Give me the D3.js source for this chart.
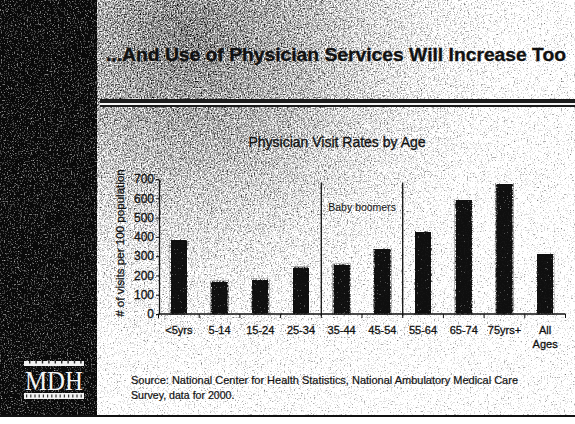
<!DOCTYPE html>
<html>
<head>
<meta charset="utf-8">
<script src="https://cdn.jsdelivr.net/npm/d3@7"></script>
<style>
  body { margin: 0; background: #fff; }
  svg { display: block; font-family: "Liberation Sans", Arial, sans-serif; }
  .ink { fill: #111; stroke: #111; stroke-width: 0.3px; }
</style>
</head>
<body>
<svg id="slide" width="575" height="424"></svg>
<script>
// data
const ageGroups = ["<5yrs", "5-14", "15-24", "25-34", "35-44", "45-54", "55-64", "65-74", "75yrs+", "All Ages"];
const visitRates = [386, 170, 180, 243, 258, 340, 428, 594, 677, 314];
const yTicks = [0, 100, 200, 300, 400, 500, 600, 700];
const boomerBounds = ["35-44", "55-64"];

const svg = d3.select("#slide");
const defs = svg.append("defs");

// scanned / halftone look: add noise to the grey level, then posterize
function ditherFilter(id, units, seed, amp, levels) {
    const f = defs.append("filter")
        .attr("id", id)
        .attr("color-interpolation-filters", "sRGB");
    if (units) {
        f.attr("filterUnits", "userSpaceOnUse")
            .attr("x", 0).attr("y", 0).attr("width", 575).attr("height", 424);
    } else {
        f.attr("x", -0.05).attr("y", -0.05).attr("width", 1.1).attr("height", 1.1);
    }
    f.append("feTurbulence")
        .attr("type", "fractalNoise")
        .attr("baseFrequency", 0.7)
        .attr("numOctaves", 2)
        .attr("seed", seed)
        .attr("result", "noise");
    f.append("feColorMatrix")
        .attr("in", "noise")
        .attr("type", "matrix")
        .attr("values", "1 0 0 0 0  1 0 0 0 0  1 0 0 0 0  0 0 0 0 1")
        .attr("result", "grey");
    f.append("feComposite")
        .attr("in", "SourceGraphic")
        .attr("in2", "grey")
        .attr("operator", "arithmetic")
        .attr("k1", 0).attr("k2", 1).attr("k3", amp).attr("k4", -amp / 2)
        .attr("result", "sum");
    const ct = f.append("feComponentTransfer").attr("in", "sum").attr("result", "bw");
    ["feFuncR", "feFuncG", "feFuncB"].forEach(fn => {
        ct.append(fn).attr("type", "discrete").attr("tableValues", levels);
    });
    f.append("feComposite")
        .attr("in", "bw")
        .attr("in2", "SourceAlpha")
        .attr("operator", "in");
}
ditherFilter("scanBg", true, 4, 1.4, "0.04 0.25 0.48 0.68 0.88 1");
ditherFilter("scanBar", false, 9, 1.4, "0.06 0.08 0.3 0.6 1");

const grad = defs.append("radialGradient")
    .attr("id", "bgGrad")
    .attr("gradientUnits", "userSpaceOnUse")
    .attr("cx", 185).attr("cy", 35).attr("r", 420);
[[0, "#727272"], [0.3, "#a0a0a0"], [0.55, "#d4d4d4"], [0.75, "#f3f3f3"], [1, "#fdfdfd"]]
    .forEach(s => grad.append("stop").attr("offset", s[0]).attr("stop-color", s[1]));

// BACKGROUND
const bg = svg.append("g").attr("filter", "url(#scanBg)");
bg.append("rect")
    .attr("x", 0).attr("y", 0).attr("width", 575).attr("height", 416)
    .attr("fill", "url(#bgGrad)");
bg.append("rect")
    .attr("x", 0).attr("y", 0).attr("width", 97).attr("height", 416)
    .attr("fill", "#0c0c0c");

// frame bottom line
svg.append("rect")
    .attr("x", 0).attr("y", 415).attr("width", 575).attr("height", 9)
    .attr("fill", "#fff");
svg.append("line")
    .attr("x1", 0).attr("y1", 416).attr("x2", 575).attr("y2", 416)
    .style("stroke", "#111").style("stroke-width", 2);

// TITLE
svg.append("text")
    .attr("x", 566).attr("y", 61)
    .attr("text-anchor", "end")
    .attr("textLength", 460)
    .attr("lengthAdjust", "spacingAndGlyphs")
    .style("font-size", "18px")
    .style("font-weight", "bold")
    .style("fill", "#111")
    .style("stroke", "#111")
    .style("stroke-width", "0.3px")
    .text("...And Use of Physician Services Will Increase Too");

// double rule under the title
svg.append("rect").attr("x", 100).attr("y", 99).attr("width", 475).attr("height", 4).attr("fill", "#1a1a1a");
svg.append("rect").attr("x", 100).attr("y", 103).attr("width", 475).attr("height", 2).attr("fill", "#f4f4f4");
svg.append("rect").attr("x", 100).attr("y", 105).attr("width", 475).attr("height", 2).attr("fill", "#1a1a1a");

// CHART
const x = d3.scaleBand()
    .domain(ageGroups)
    .range([158.5, 565.5])
    .paddingInner(0.58)
    .paddingOuter(0.29);
const y = d3.scaleLinear()
    .domain([0, 700])
    .range([314, 179]);

svg.append("text")
    .attr("class", "ink")
    .attr("x", 337).attr("y", 147)
    .attr("text-anchor", "middle")
    .style("font-size", "14px")
    .text("Physician Visit Rates by Age");

// bars
svg.append("g")
    .attr("filter", "url(#scanBar)")
    .selectAll("rect")
    .data(ageGroups)
    .join("rect")
    .attr("x", d => x(d))
    .attr("y", (d, i) => y(visitRates[i]))
    .attr("width", x.bandwidth())
    .attr("height", (d, i) => y(0) - y(visitRates[i]))
    .attr("fill", "#141414")
    .attr("stroke", "#fff")
    .attr("stroke-width", 1);

// y axis
const yAxis = svg.append("g")
    .attr("transform", "translate(159,0)")
    .call(d3.axisLeft(y).tickValues(yTicks).tickSize(3).tickSizeOuter(0).tickPadding(2));
yAxis.select(".domain").style("stroke", "#111").style("stroke-width", 1.3);
yAxis.selectAll(".tick line").style("stroke", "#111");
yAxis.selectAll("text")
    .attr("class", "ink")
    .style("font-size", "12px")
    .style("font-family", "'Liberation Sans', Arial, sans-serif");

svg.append("text")
    .attr("class", "ink")
    .attr("transform", "translate(119,243) rotate(-90)")
    .attr("text-anchor", "middle")
    .attr("dominant-baseline", "central")
    .style("font-size", "11.6px")
    .text("# of visits per 100 population");

// x axis: line, ticks at category boundaries, labels
const step = x.step();
const bounds = ageGroups.map(d => x(d) - step * x.paddingInner() / 2);
bounds.push(x(ageGroups[ageGroups.length - 1]) + x.bandwidth() + step * x.paddingInner() / 2);

svg.append("line")
    .attr("x1", bounds[0]).attr("y1", y(0))
    .attr("x2", bounds[bounds.length - 1]).attr("y2", y(0))
    .style("stroke", "#111").style("stroke-width", 1.3);
svg.append("g")
    .selectAll("line")
    .data(bounds)
    .join("line")
    .attr("x1", d => d).attr("x2", d => d)
    .attr("y1", y(0)).attr("y2", y(0) + 4)
    .style("stroke", "#111").style("stroke-width", 1);

const xLabels = svg.append("g")
    .selectAll("text")
    .data(ageGroups)
    .join("text")
    .attr("class", "ink")
    .attr("x", d => x(d) + x.bandwidth() / 2)
    .attr("y", 334)
    .attr("text-anchor", "middle")
    .style("font-size", "11px");
xLabels.each(function (d) {
    const parts = d.split(" ");
    parts.forEach((p, k) => {
        d3.select(this).append("tspan")
            .attr("x", x(d) + x.bandwidth() / 2)
            .attr("dy", k === 0 ? 0 : 14)
            .text(p);
    });
});

// baby boomer dividers
svg.append("g")
    .selectAll("line")
    .data(boomerBounds)
    .join("line")
    .attr("x1", d => x(d) - step * x.paddingInner() / 2)
    .attr("x2", d => x(d) - step * x.paddingInner() / 2)
    .attr("y1", y(682))
    .attr("y2", y(0) + 2)
    .style("stroke", "#111").style("stroke-width", 1.3);
svg.append("text")
    .attr("x", x("35-44") - step * 0.12)
    .attr("y", 211)
    .style("font-size", "10.5px")
    .style("fill", "#111")
    .text("Baby boomers");

// SOURCE
const src = svg.append("text")
    .attr("class", "ink")
    .attr("x", 131).attr("y", 384)
    .style("font-size", "10.6px")
    .style("stroke-width", "0.2px");
src.append("tspan").attr("x", 131).attr("dy", 0)
    .attr("textLength", 387)
    .attr("lengthAdjust", "spacingAndGlyphs")
    .text("Source: National Center for Health Statistics, National Ambulatory Medical Care");
src.append("tspan").attr("x", 131).attr("dy", 15)
    .text("Survey, data for 2000.");

// MDH LOGO
const logo = svg.append("g");
logo.append("rect").attr("x", 24).attr("y", 361).attr("width", 60).attr("height", 5).attr("fill", "#f2f2f2");
logo.append("g")
    .selectAll("rect")
    .data(d3.range(9))
    .join("rect")
    .attr("x", i => 29 + i * 6.4)
    .attr("y", 361)
    .attr("width", 1.4).attr("height", 2.5)
    .attr("fill", "#222");
logo.append("text")
    .attr("x", 54).attr("y", 390)
    .attr("text-anchor", "middle")
    .attr("textLength", 58)
    .attr("lengthAdjust", "spacingAndGlyphs")
    .style("font-family", "'Liberation Serif', 'DejaVu Serif', serif")
    .style("font-size", "27px")
    .style("fill", "#f4f4f4")
    .text("MDH");
logo.append("rect").attr("x", 24).attr("y", 393).attr("width", 60).attr("height", 6).attr("fill", "#f2f2f2");
logo.append("g")
    .selectAll("rect")
    .data(d3.range(14))
    .join("rect")
    .attr("x", i => 26 + i * 4.2)
    .attr("y", 394.5)
    .attr("width", 1.2).attr("height", 3)
    .attr("fill", "#333");
</script>
</body>
</html>
